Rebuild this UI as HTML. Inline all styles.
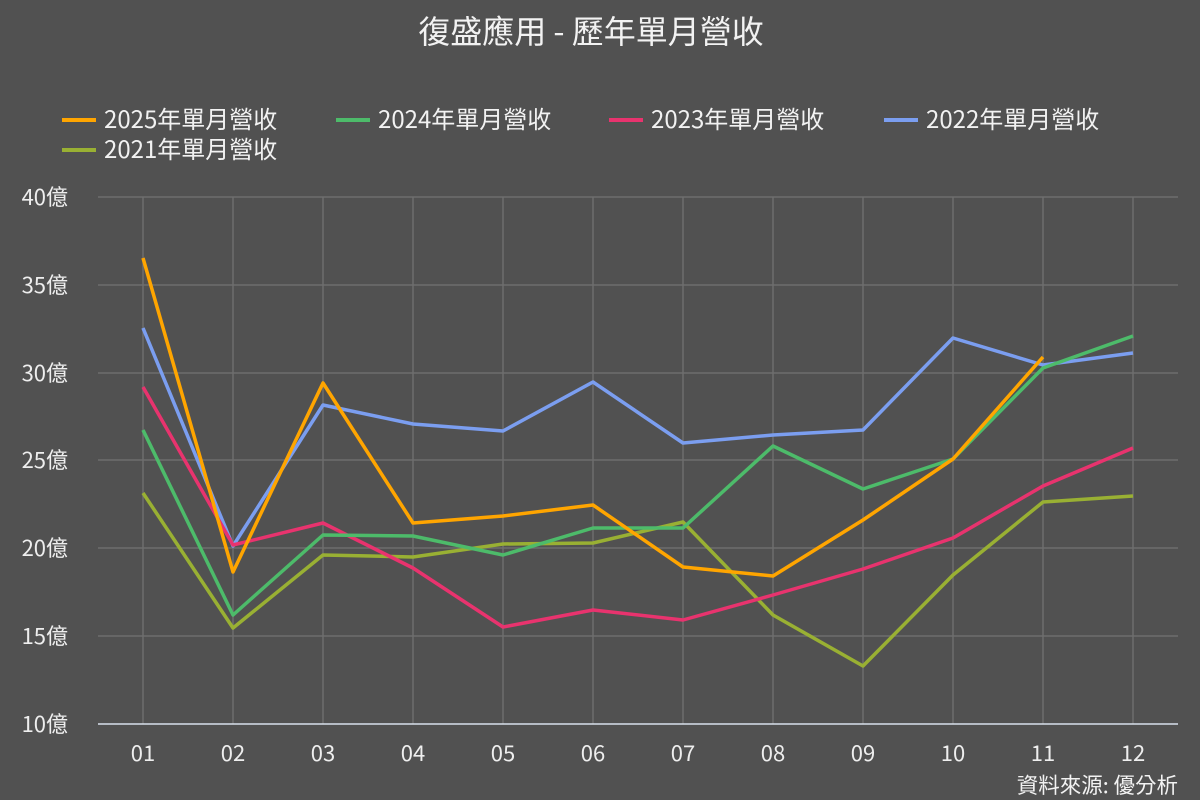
<!DOCTYPE html>
<html><head><meta charset="utf-8"><style>
body{margin:0;background:#515151;}
svg{display:block;font-family:"Noto Sans CJK TC","Liberation Sans",sans-serif;}
</style></head><body>
<svg width="1200" height="800" viewBox="0 0 1200 800">
<rect width="1200" height="800" fill="#515151"/>
<text x="591" y="43" fill="#f2f2f2" font-size="32" text-anchor="middle">復盛應用 - 歷年單月營收</text>
<g font-size="24" fill="#f2f2f2">
<line x1="62" y1="120" x2="96" y2="120" stroke="#ffa500" stroke-width="4"/><text x="104" y="128">2025年單月營收</text>
<line x1="336" y1="120" x2="370" y2="120" stroke="#4dbb6a" stroke-width="4"/><text x="378" y="128">2024年單月營收</text>
<line x1="609" y1="120" x2="643" y2="120" stroke="#e8336e" stroke-width="4"/><text x="651" y="128">2023年單月營收</text>
<line x1="884" y1="120" x2="918" y2="120" stroke="#7b9ef0" stroke-width="4"/><text x="926" y="128">2022年單月營收</text>
<line x1="62" y1="150" x2="96" y2="150" stroke="#99b033" stroke-width="4"/><text x="104" y="158">2021年單月營收</text>
</g>
<g stroke="#6e6e6e" stroke-width="1.5">
<line x1="98" y1="197" x2="1178" y2="197"/><line x1="98" y1="285" x2="1178" y2="285"/>
<line x1="98" y1="373" x2="1178" y2="373"/><line x1="98" y1="460" x2="1178" y2="460"/>
<line x1="98" y1="548" x2="1178" y2="548"/><line x1="98" y1="636" x2="1178" y2="636"/>
<line x1="143" y1="197" x2="143" y2="724"/><line x1="233" y1="197" x2="233" y2="724"/>
<line x1="323" y1="197" x2="323" y2="724"/><line x1="413" y1="197" x2="413" y2="724"/>
<line x1="503" y1="197" x2="503" y2="724"/><line x1="593" y1="197" x2="593" y2="724"/>
<line x1="683" y1="197" x2="683" y2="724"/><line x1="773" y1="197" x2="773" y2="724"/>
<line x1="863" y1="197" x2="863" y2="724"/><line x1="953" y1="197" x2="953" y2="724"/>
<line x1="1043" y1="197" x2="1043" y2="724"/><line x1="1133" y1="197" x2="1133" y2="724"/>
</g>
<line x1="98" y1="724" x2="1178" y2="724" stroke="#d8e0ec" stroke-width="1.5"/>
<g font-size="22" fill="#eeeeee" text-anchor="end">
<text x="68" y="205">40億</text><text x="68" y="293">35億</text><text x="68" y="381">30億</text>
<text x="68" y="468">25億</text><text x="68" y="556">20億</text><text x="68" y="644">15億</text><text x="68" y="732">10億</text>
</g>
<g font-size="22" fill="#eeeeee" text-anchor="middle">
<text x="143" y="761">01</text><text x="233" y="761">02</text><text x="323" y="761">03</text><text x="413" y="761">04</text>
<text x="503" y="761">05</text><text x="593" y="761">06</text><text x="683" y="761">07</text><text x="773" y="761">08</text>
<text x="863" y="761">09</text><text x="953" y="761">10</text><text x="1043" y="761">11</text><text x="1133" y="761">12</text>
</g>
<g fill="none" stroke-width="3.5" stroke-linejoin="round">
<polyline stroke="#99b033" points="143,493 233,628 323,555 413,557 503,544 593,543 683,522 773,615 863,666 953,575 1043,502 1133,496"/>
<polyline stroke="#7b9ef0" points="143,328 233,546 323,405 413,424 503,431 593,382 683,443 773,435 863,430 953,338 1043,365 1133,353"/>
<polyline stroke="#e8336e" points="143,387 233,545 323,523 413,568 503,627 593,610 683,620 773,595 863,569 953,538 1043,486 1133,448"/>
<polyline stroke="#4dbb6a" points="143,430 233,615 323,535 413,536 503,555 593,528 683,528 773,446 863,489 953,459 1043,368 1133,336"/>
<polyline stroke="#ffa500" points="143,258 233,572 323,383 413,523 503,516 593,505 683,567 773,576 863,520 953,459 1043,357"/>
</g>
<text x="1178" y="793" fill="#f2f2f2" font-size="21.5" text-anchor="end">資料來源: 優分析</text>
</svg>
</body></html>
